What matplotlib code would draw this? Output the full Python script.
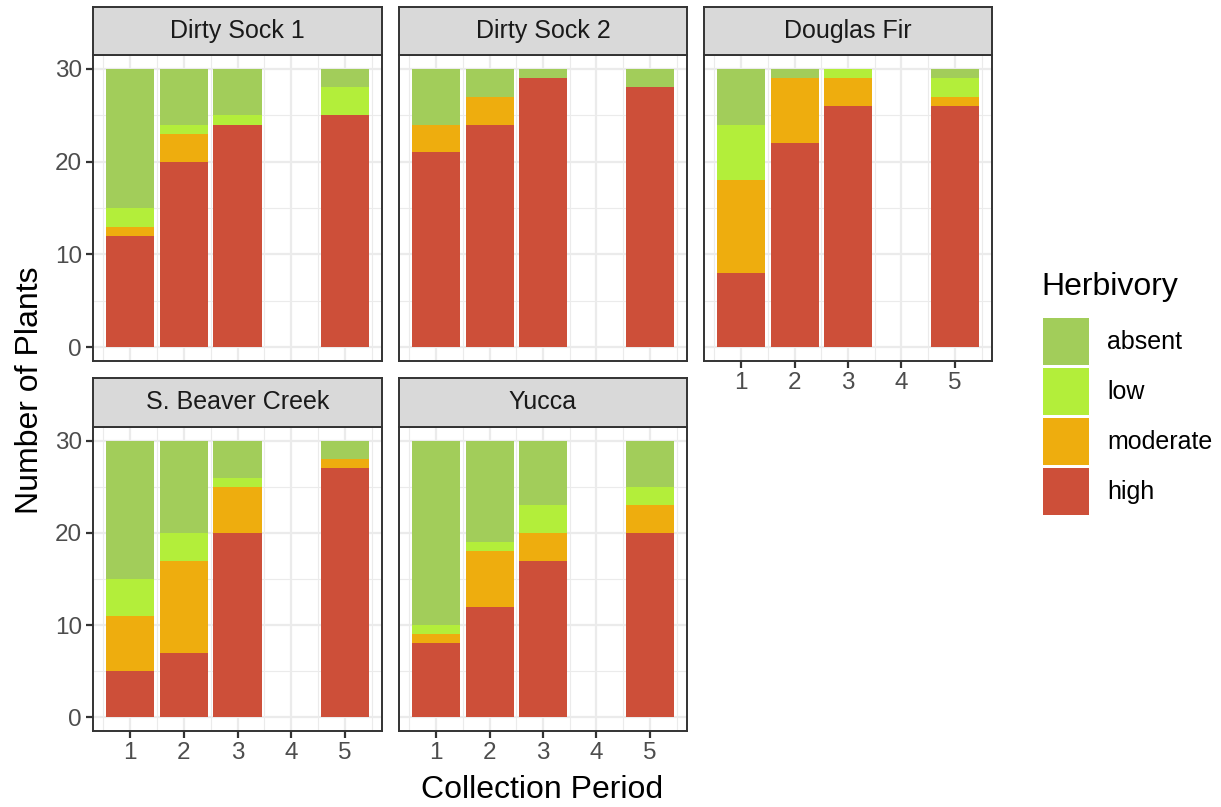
import matplotlib
matplotlib.use("Agg")
import matplotlib.pyplot as plt
from matplotlib.patches import Rectangle
from matplotlib.ticker import MultipleLocator

plt.rcParams['font.family'] = ['Liberation Sans', 'DejaVu Sans']

# Herbivory counts per site (rows) and collection period (columns)
sites = ['Dirty Sock 1', 'Dirty Sock 2', 'Douglas Fir', 'S. Beaver Creek', 'Yucca']
periods = [1, 2, 3, 5]
high = [[12, 20, 24, 25], [21, 24, 29, 28], [8, 22, 26, 26], [5, 7, 20, 27], [8, 12, 17, 20]]
moderate = [[1, 3, 0, 0], [3, 3, 0, 0], [10, 7, 3, 1], [6, 10, 5, 1], [1, 6, 3, 3]]
low = [[2, 1, 1, 3], [0, 0, 0, 0], [6, 0, 1, 2], [4, 3, 1, 0], [1, 1, 3, 2]]
absent = [[15, 6, 5, 2], [6, 3, 1, 2], [6, 1, 0, 1], [15, 10, 4, 2], [20, 11, 7, 5]]

levels = ['high', 'moderate', 'low', 'absent']
counts = {'high': high, 'moderate': moderate, 'low': low, 'absent': absent}
colors = {'absent': '#A2CD5A', 'low': '#B3EE3A', 'moderate': '#EEAD0E', 'high': '#CD4F39'}

W, H = 1221, 807
fig = plt.figure(figsize=(W / 100, H / 100), dpi=100)


def box(x0, y0, x1, y1):
    return [x0 / W, 1 - y1 / H, (x1 - x0) / W, (y1 - y0) / H]


cols = [(93, 382), (399, 687), (704, 992)]
rows = [((7, 55), (55, 361)), ((378, 427), (427, 731))]
layout = [(0, 0), (0, 1), (0, 2), (1, 0), (1, 1)]
frame_col = '#333333'
tick_col = '#4D4D4D'

for i, site in enumerate(sites):
    r, c = layout[i]
    (sy0, sy1), (py0, py1) = rows[r]
    x0, x1 = cols[c]

    ax = fig.add_axes(box(x0, py0, x1, py1))
    ax.set_xlim(0.305, 5.695)
    ax.set_ylim(-1.5, 31.5)
    ax.set_facecolor('white')
    ax.set_axisbelow(True)
    ax.xaxis.set_major_locator(MultipleLocator(1))
    ax.xaxis.set_minor_locator(MultipleLocator(0.5))
    ax.yaxis.set_major_locator(MultipleLocator(10))
    ax.yaxis.set_minor_locator(MultipleLocator(5))
    ax.grid(which='major', color='#EBEBEB', linewidth=1.6)
    ax.grid(which='minor', color='#EBEBEB', linewidth=0.8)

    bottom = [0] * len(periods)
    for lev in levels:
        vals = counts[lev][i]
        ax.bar(periods, vals, width=0.9, bottom=bottom, color=colors[lev], linewidth=0)
        bottom = [b + v for b, v in zip(bottom, vals)]

    for sp in ax.spines.values():
        sp.set_color(frame_col)
        sp.set_linewidth(1.4)
    ax.tick_params(which='minor', length=0)
    ax.tick_params(which='major', length=5, width=1.6, color=frame_col,
                   labelsize=17.5, labelcolor=tick_col, pad=3)
    ax.set_xticks([1, 2, 3, 4, 5])
    ax.set_yticks([0, 10, 20, 30])
    if c != 0:
        ax.tick_params(axis='y', left=False, labelleft=False)
    if r == 0 and c != 2:
        ax.tick_params(axis='x', bottom=False, labelbottom=False)

    # facet strip
    sax = fig.add_axes(box(x0, sy0, x1, sy1))
    sax.set_facecolor('#D9D9D9')
    sax.set_xticks([])
    sax.set_yticks([])
    for sp in sax.spines.values():
        sp.set_color(frame_col)
        sp.set_linewidth(1.4)
    sax.text(0.5, 0.5, site, ha='center', va='center', fontsize=18,
             color='#1A1A1A', transform=sax.transAxes)

fig.text(30 / W, 1 - 390 / H, 'Number of Plants', rotation=90, ha='center',
         va='center', fontsize=23)
fig.text(542 / W, 1 - 790 / H, 'Collection Period', ha='center', va='center',
         fontsize=23)

# legend
lax = fig.add_axes([0, 0, 1, 1])
lax.set_xlim(0, W)
lax.set_ylim(H, 0)
lax.axis('off')
lax.text(1041, 287, 'Herbivory', ha='left', va='center', fontsize=23)
for k, lev in enumerate(['absent', 'low', 'moderate', 'high']):
    top = 318 + k * 50
    lax.add_patch(Rectangle((1043, top), 46, 47, facecolor=colors[lev],
                            edgecolor='none'))
    lax.text(1107, top + 24, lev, ha='left', va='center', fontsize=18)

fig.savefig('out.png', dpi=100)
